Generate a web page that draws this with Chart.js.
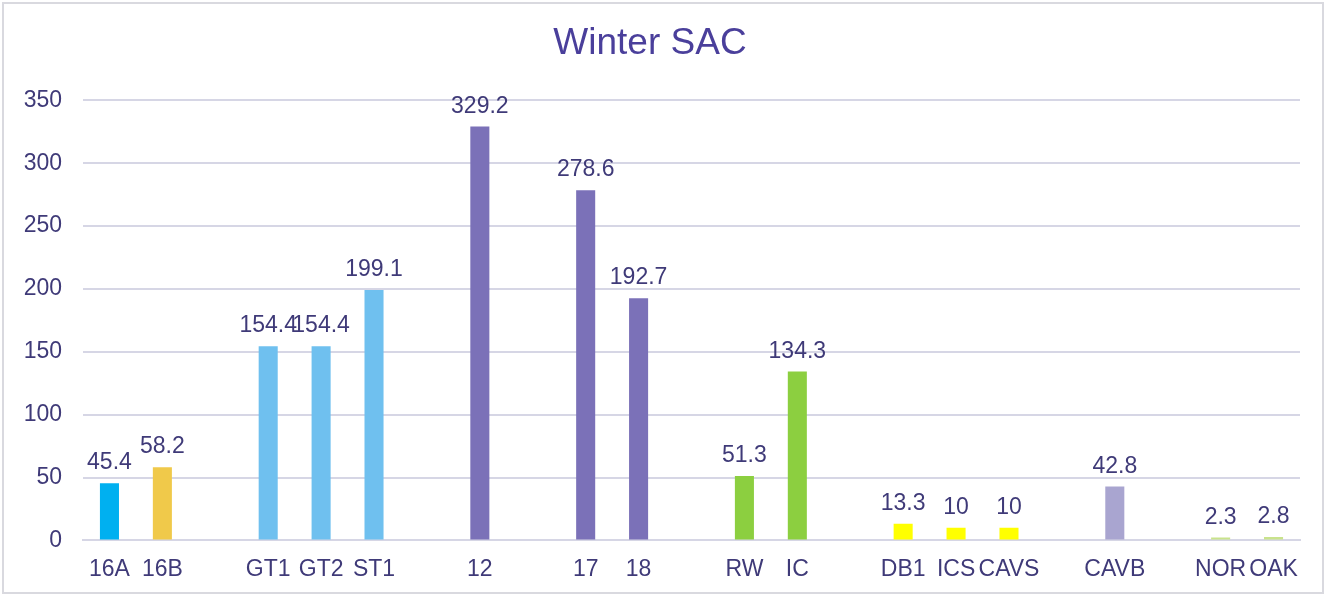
<!DOCTYPE html>
<html>
<head>
<meta charset="utf-8">
<script src="https://cdn.jsdelivr.net/npm/chart.js@4"></script>
<style>
  html, body { margin: 0; padding: 0; background: #fff; }
  .frame { position: absolute; left: 2px; top: 2px; width: 1322px; height: 592px; border: 2px solid #d9d9df; box-sizing: border-box; }
  #chartWrap { position: absolute; left: 0; top: 0; width: 1328px; height: 598px; }
</style>
</head>
<body>
<div class="frame"></div>
<div id="chartWrap"><canvas id="sacChart"></canvas></div>
<script>
// Chart Data (empty labels are the gaps between groups)
const labels = ['16A', '16B', '', 'GT1', 'GT2', 'ST1', '', '12', '', '17', '18', '', 'RW', 'IC', '', 'DB1', 'ICS', 'CAVS', '', 'CAVB', '', 'NOR', 'OAK'];
const values = [45.4, 58.2, null, 154.4, 154.4, 199.1, null, 329.2, null, 278.6, 192.7, null, 51.3, 134.3, null, 13.3, 10, 10, null, 42.8, null, 2.3, 2.8];
const barColors = ['#00b0f0', '#f0c94a', null, '#6fc0ef', '#6fc0ef', '#6fc0ef', null, '#7b71b8', null, '#7b71b8', '#7b71b8', null, '#8ccf40', '#8ccf40', null, '#ffff00', '#ffff00', '#ffff00', null, '#a9a5d0', null, '#c9e38c', '#c9e38c'];
const yTicks = [0, 50, 100, 150, 200, 250, 300, 350];

const textColor = '#3f3a78';
const gridColor = '#d6d6e5';
const fontFamily = '"Liberation Sans", Arial, sans-serif';

// Value labels above each bar
const valueLabels = {
  id: 'valueLabels',
  afterDatasetsDraw(chart) {
    const ctx = chart.ctx;
    const meta = chart.getDatasetMeta(0);
    ctx.save();
    ctx.font = '23px ' + fontFamily;
    ctx.fillStyle = textColor;
    ctx.textAlign = 'center';
    ctx.textBaseline = 'alphabetic';
    meta.data.forEach((bar, i) => {
      const v = values[i];
      if (v === null) return;
      ctx.fillText(String(v), bar.x, bar.y - 14);
    });
    ctx.restore();
  }
};

function createChart() {
  const ctx = document.getElementById('sacChart');
  new Chart(ctx, {
    type: 'bar',
    data: {
      labels: labels,
      datasets: [{
        data: values,
        backgroundColor: barColors,
        barPercentage: 0.36,
        categoryPercentage: 1.0
      }]
    },
    options: {
      responsive: true,
      maintainAspectRatio: false,
      animation: false,
      layout: { padding: { left: 0, right: 28, top: 22, bottom: 0 } },
      plugins: {
        legend: { display: false },
        tooltip: { enabled: false },
        title: {
          display: true,
          text: 'Winter SAC',
          color: '#4a3f9b',
          font: { size: 37, family: fontFamily, weight: 'normal' },
          padding: { top: 0, bottom: 34 }
        }
      },
      scales: {
        x: {
          grid: { display: false, drawTicks: false },
          border: { display: true, color: gridColor, width: 2 },
          ticks: {
            color: textColor,
            font: { size: 23, family: fontFamily },
            maxRotation: 0,
            autoSkip: false,
            padding: 15
          }
        },
        y: {
          min: 0,
          max: 350,
          afterBuildTicks: (scale) => { scale.ticks = yTicks.map(v => ({ value: v })); },
          afterFit: (scale) => { scale.width = 83; },
          grid: { color: gridColor, lineWidth: 2, drawTicks: false },
          border: { display: false },
          ticks: {
            color: textColor,
            font: { size: 23, family: fontFamily },
            padding: 21
          }
        }
      }
    },
    plugins: [valueLabels]
  });
}

createChart();
</script>
</body>
</html>
